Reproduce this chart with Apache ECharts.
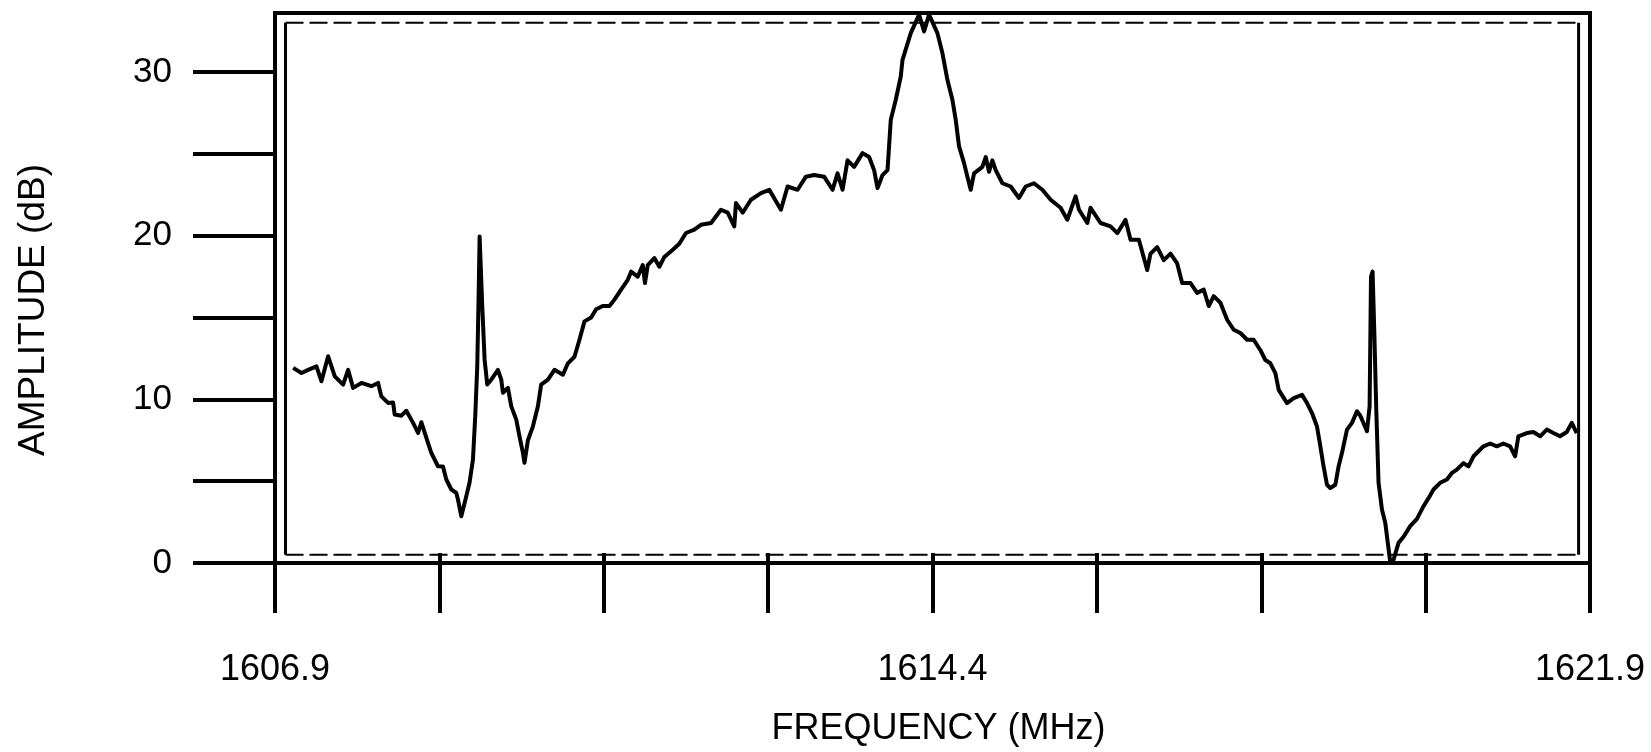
<!DOCTYPE html>
<html>
<head>
<meta charset="utf-8">
<script src="https://cdn.jsdelivr.net/npm/echarts@6/dist/echarts.min.js"></script>
<style>
  html, body { margin: 0; padding: 0; background: #fff; }
  #chart { width: 1651px; height: 752px; }
</style>
</head>
<body>
<div id="chart"></div>
<script>
// ---- data ----
const freqMHz = [
  1607.107, 1607.202, 1607.278, 1607.373, 1607.430, 1607.506, 1607.582, 1607.677, 1607.734, 1607.791,
  1607.886, 1608.000, 1608.076, 1608.113, 1608.190, 1608.247, 1608.265, 1608.341, 1608.398, 1608.475,
  1608.532, 1608.569, 1608.645, 1608.683, 1608.759, 1608.816, 1608.854, 1608.911, 1608.968, 1608.987,
  1609.025, 1609.063, 1609.119, 1609.158, 1609.184, 1609.207, 1609.222, 1609.234, 1609.253, 1609.264,
  1609.291, 1609.321, 1609.367, 1609.443, 1609.481, 1609.500, 1609.557, 1609.595, 1609.652, 1609.689,
  1609.728, 1609.746, 1609.785, 1609.842, 1609.899, 1609.936, 1610.013, 1610.088, 1610.184, 1610.241,
  1610.316, 1610.373, 1610.430, 1610.506, 1610.563, 1610.639, 1610.715, 1610.772, 1610.848, 1610.924,
  1610.962, 1611.038, 1611.095, 1611.120, 1611.152, 1611.227, 1611.284, 1611.341, 1611.437, 1611.512,
  1611.588, 1611.683, 1611.759, 1611.874, 1611.987, 1612.064, 1612.139, 1612.158, 1612.235, 1612.329,
  1612.443, 1612.538, 1612.671, 1612.747, 1612.861, 1612.956, 1613.050, 1613.164, 1613.260, 1613.317,
  1613.374, 1613.431, 1613.506, 1613.602, 1613.677, 1613.734, 1613.773, 1613.830, 1613.887, 1613.924,
  1613.981, 1614.038, 1614.058, 1614.152, 1614.247, 1614.304, 1614.361, 1614.456, 1614.513, 1614.570,
  1614.627, 1614.665, 1614.703, 1614.760, 1614.798, 1614.836, 1614.874, 1614.969, 1615.007, 1615.045,
  1615.083, 1615.121, 1615.197, 1615.292, 1615.386, 1615.463, 1615.557, 1615.653, 1615.748, 1615.861,
  1615.938, 1616.032, 1616.070, 1616.166, 1616.203, 1616.317, 1616.431, 1616.508, 1616.602, 1616.659,
  1616.754, 1616.849, 1616.887, 1616.963, 1617.038, 1617.115, 1617.191, 1617.248, 1617.343, 1617.419,
  1617.494, 1617.551, 1617.608, 1617.684, 1617.761, 1617.836, 1617.912, 1617.989, 1618.064, 1618.140,
  1618.197, 1618.254, 1618.311, 1618.349, 1618.444, 1618.520, 1618.615, 1618.672, 1618.729, 1618.786,
  1618.824, 1618.861, 1618.900, 1618.938, 1618.995, 1619.032, 1619.071, 1619.128, 1619.185, 1619.242,
  1619.280, 1619.356, 1619.386, 1619.402, 1619.420, 1619.439, 1619.462, 1619.488, 1619.527, 1619.565,
  1619.622, 1619.659, 1619.716, 1619.773, 1619.849, 1619.926, 1620.001, 1620.058, 1620.115, 1620.191,
  1620.268, 1620.325, 1620.382, 1620.457, 1620.514, 1620.571, 1620.685, 1620.761, 1620.837, 1620.912,
  1620.989, 1621.046, 1621.083, 1621.179, 1621.254, 1621.331, 1621.407, 1621.482, 1621.558, 1621.635,
  1621.692, 1621.749
];
const ampDb = [
  11.92, 11.61, 11.80, 12.01, 11.10, 12.63, 11.40, 10.90, 11.80, 10.70,
  11.00, 10.80, 11.00, 10.18, 9.78, 9.80, 9.07, 9.00, 9.30, 8.56,
  7.95, 8.60, 7.34, 6.73, 5.91, 5.90, 5.10, 4.49, 4.28, 3.88,
  2.86, 3.66, 4.90, 6.32, 8.96, 12.00, 16.09, 19.95, 19.95, 15.70,
  12.42, 10.90, 11.20, 11.80, 11.20, 10.40, 10.70, 9.57, 8.76, 7.74,
  6.73, 6.12, 7.50, 8.35, 9.57, 10.90, 11.20, 11.80, 11.50, 12.20,
  12.60, 13.64, 14.76, 15.00, 15.50, 15.70, 15.70, 16.09, 16.70, 17.30,
  17.80, 17.50, 18.20, 17.10, 18.20, 18.63, 18.10, 18.70, 19.14, 19.50,
  20.16, 20.36, 20.66, 20.77, 21.58, 21.40, 20.56, 21.99, 21.40, 22.19,
  22.60, 22.80, 21.58, 23.00, 22.80, 23.60, 23.70, 23.60, 22.80, 23.80,
  22.80, 24.60, 24.20, 25.04, 24.80, 24.00, 22.90, 23.70, 24.00, 27.07,
  28.30, 29.72, 30.74, 32.37, 33.50, 32.47, 33.50, 32.37, 31.15, 29.52,
  28.30, 27.07, 25.45, 24.43, 23.60, 22.80, 23.80, 24.20, 24.80, 23.90,
  24.60, 24.00, 23.20, 23.00, 22.30, 23.00, 23.20, 22.80, 22.19, 21.70,
  20.97, 22.40, 21.60, 20.77, 21.70, 20.77, 20.56, 20.15, 20.96, 19.75,
  19.75, 17.90, 18.90, 19.30, 18.50, 18.90, 18.30, 17.10, 17.10, 16.50,
  16.70, 15.70, 16.30, 15.90, 14.86, 14.25, 14.05, 13.64, 13.64, 13.00,
  12.40, 12.20, 11.60, 10.58, 9.77, 10.07, 10.27, 9.77, 9.16, 8.34,
  7.13, 5.90, 4.78, 4.58, 4.78, 5.90, 6.73, 8.15, 8.56, 9.27,
  9.00, 8.05, 9.57, 17.50, 17.80, 14.25, 9.37, 4.90, 3.27, 2.45,
  0.01, 0.20, 1.23, 1.60, 2.25, 2.70, 3.47, 3.96, 4.49, 4.90,
  5.10, 5.50, 5.71, 6.10, 5.90, 6.52, 7.13, 7.30, 7.13, 7.30,
  7.13, 6.52, 7.74, 7.94, 8.00, 7.74, 8.15, 7.94, 7.74, 8.00,
  8.56, 7.94
];
const xTickValues = [1606.9, 1608.775, 1610.65, 1612.525, 1614.4, 1616.275, 1618.15, 1620.025, 1621.9];
const xLabelValues = [1606.9, 1614.4, 1621.9];
const yTickValues = [0, 5, 10, 15, 20, 25, 30];
const yLabelValues = [0, 10, 20, 30];
// edges of the analyzer's trace screen (data units)
const screenFreq = [1607.02, 1621.77];
const screenAmp = [0.5, 33.0];

// ---- chart ----
const FONT = 'Liberation Sans, Arial, Helvetica, sans-serif';
const chart = echarts.init(document.getElementById('chart'), null, { renderer: 'canvas' });

const trace = freqMHz.map((f, i) => [f, ampDb[i]]);
const edgeLine = (pts, w, type) => ({
  type: 'line', data: pts, symbol: 'none', silent: true, animation: false,
  lineStyle: { color: '#000', width: w, type: type }, z: 1
});

chart.setOption({
  backgroundColor: '#ffffff',
  animation: false,
  grid: {
    left: 275, right: 61, top: 13, bottom: 188,
    show: true, borderColor: '#000', borderWidth: 4, backgroundColor: 'transparent'
  },
  xAxis: [{
    type: 'value', min: 1606.9, max: 1621.9, position: 'bottom',
    axisLine: { show: true, lineStyle: { color: '#000', width: 4 } },
    axisTick: { show: true, customValues: xTickValues, length: 50, lineStyle: { color: '#000', width: 4 } },
    axisLabel: {
      customValues: xLabelValues, formatter: v => v.toFixed(1),
      margin: 89, fontSize: 36, color: '#000', fontFamily: FONT
    },
    splitLine: { show: false },
    name: 'FREQUENCY (MHz)', nameLocation: 'middle', nameGap: 148,
    nameTextStyle: { fontSize: 36, color: '#000', fontFamily: FONT, padding: [0, 0, 0, 12] }
  }, {
    type: 'value', min: 1606.9, max: 1621.9, position: 'bottom',
    axisLine: { show: false },
    axisTick: { show: true, inside: true, customValues: xTickValues, length: 10, lineStyle: { color: '#000', width: 4 } },
    axisLabel: { show: false },
    splitLine: { show: false }
  }],
  yAxis: {
    type: 'value', min: 0, max: 33.6,
    axisLine: { show: true, lineStyle: { color: '#000', width: 4 } },
    axisTick: { show: true, customValues: yTickValues, length: 82, lineStyle: { color: '#000', width: 4 } },
    axisLabel: {
      customValues: yLabelValues, margin: 103, fontSize: 35, color: '#000', fontFamily: FONT
    },
    splitLine: { show: false },
    name: 'AMPLITUDE (dB)', nameLocation: 'middle', nameGap: 223,
    nameTextStyle: { fontSize: 37, color: '#000', fontFamily: FONT, padding: [0, 44, 0, 0] }
  },
  series: [
    edgeLine([[screenFreq[0], screenAmp[0]], [screenFreq[0], screenAmp[1]]], 3, 'solid'),
    edgeLine([[screenFreq[1], screenAmp[0]], [screenFreq[1], screenAmp[1]]], 3, 'solid'),
    edgeLine([[screenFreq[0], screenAmp[1]], [screenFreq[1], screenAmp[1]]], 2, [18, 6]),
    edgeLine([[screenFreq[0], screenAmp[0]], [screenFreq[1], screenAmp[0]]], 2, [18, 6]),
    {
      name: 'Spectrum', type: 'line', data: trace, symbol: 'none', smooth: false,
      lineStyle: { color: '#000', width: 4, join: 'round' }, z: 3, animation: false
    }
  ]
});
</script>
</body>
</html>
